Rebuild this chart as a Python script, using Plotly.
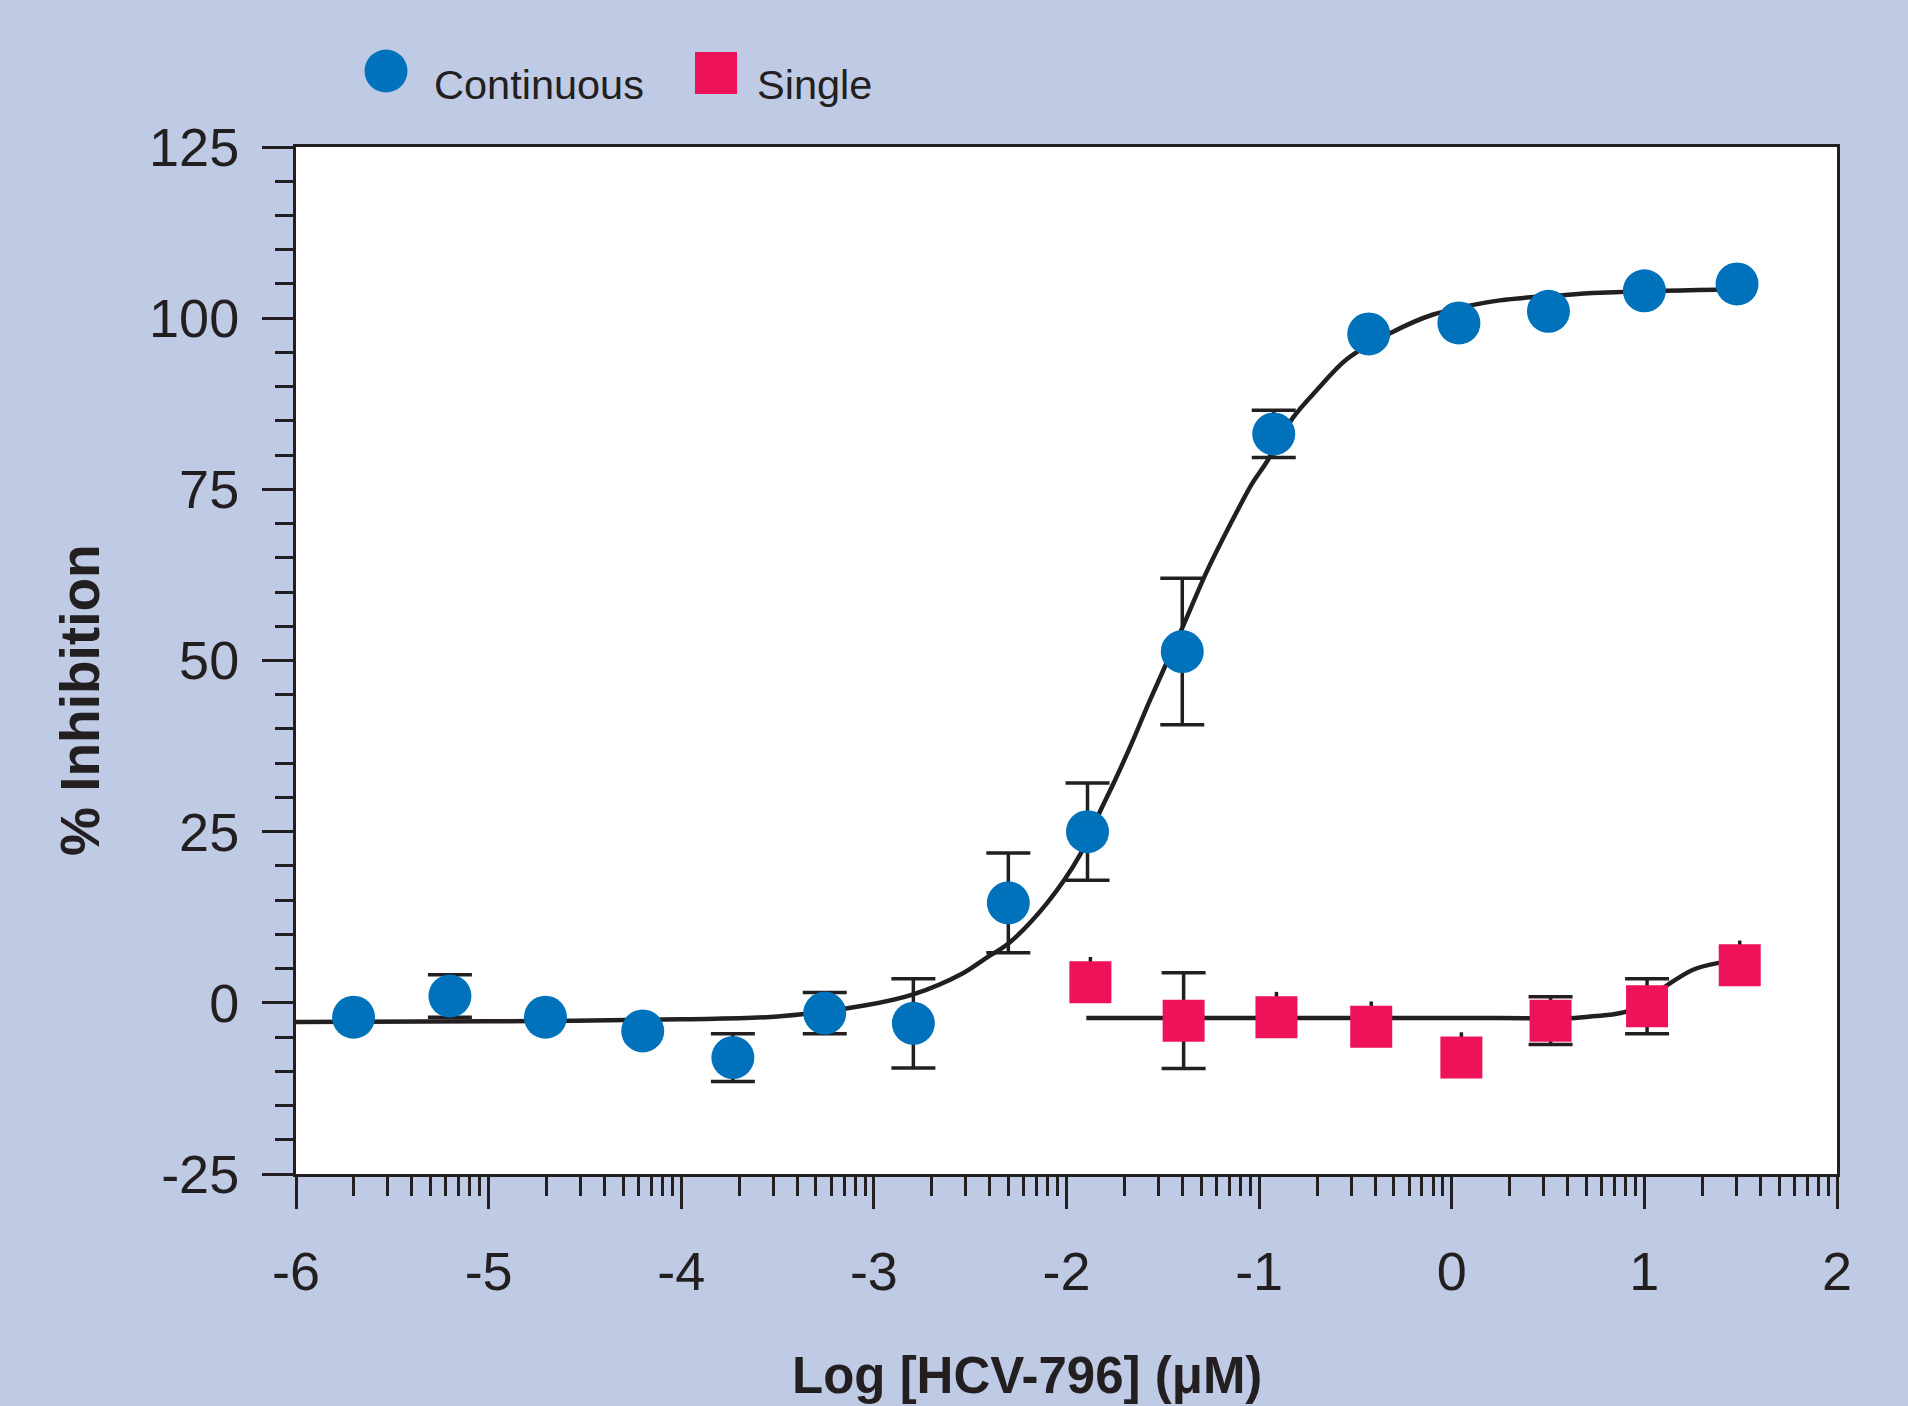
import numpy as np
import plotly.graph_objects as go

# ---------------- data ----------------
cont_x = [-5.701, -5.201, -4.705, -4.200, -3.732, -3.255, -2.795, -2.302,
          -1.891, -1.399, -0.924, -0.431, 0.037, 0.502, 1.000, 1.481]
cont_y = [-2.1, 1.0, -2.1, -4.1, -8.0, -1.5, -3.0, 14.6,
          25.0, 51.3, 83.1, 97.7, 99.3, 101.0, 104.0, 105.0]
cont_err = [0, 3.1, 0, 0, 3.5, 3.0, 6.5, 7.3,
            7.1, 10.7, 3.45, 0, 0, 0, 0, 0]

single_x = [-1.876, -1.392, -0.910, -0.418, 0.050, 0.513, 1.014, 1.495]
single_y = [3.0, -2.6, -2.1, -3.5, -8.0, -2.6, -0.5, 5.5]
single_err = [3.7, 7.0, 3.7, 3.7, 3.7, 3.5, 4.0, 3.6]

fit_cont_x = [-6.0, -5.0, -4.0, -3.5, -3.05, -2.8, -2.54, -2.42, -2.30, -2.10,
              -1.93, -1.83, -1.75, -1.66, -1.57, -1.40, -1.275, -1.155, -1.035,
              -0.965, -0.826, -0.70, -0.55, -0.32, -0.10, 0.25, 0.59, 0.77,
              1.28, 1.48]
fit_cont_y = [-2.8, -2.7, -2.4, -2.0, -0.4, 1.2, 4.3, 6.5, 8.7, 14.6,
              21.6, 27.7, 32.4, 38.0, 44.0, 54.7, 62.8, 69.6, 75.9,
              78.8, 85.4, 89.5, 93.9, 97.8, 100.5, 102.6, 103.4, 103.7,
              104.1, 104.2]

fit_single_x = [-1.897, -1.0, 0.0, 0.64, 0.72, 0.82, 0.905, 1.01, 1.12, 1.25, 1.38, 1.495]
fit_single_y = [-2.2, -2.2, -2.2, -2.2, -2.0, -1.75, -1.3, 0.3, 2.6, 4.8, 5.8, 6.1]

x_tick_vals = [-6, -5, -4, -3, -2, -1, 0, 1, 2]
x_tick_text = ["-6", "-5", "-4", "-3", "-2", "-1", "0", "1", "2"]
y_tick_vals = [-25, 0, 25, 50, 75, 100, 125]
y_tick_text = ["-25", "0", "25", "50", "75", "100", "125"]

series_names = ["Continuous", "Single"]
x_title = "Log [HCV-796] (\u03bcM)"
y_title = "% Inhibition"

# ---------------- styling ----------------
BLUE = "#0072BC"
PINK = "#EE1259"
INK = "#231F20"
BG = "#BFCAE4"
FONT = "Liberation Sans"

W, H = 1908, 1406
ML, MR, MT, MB = 296, 71, 147, 232
PW, PH = W - ML - MR, H - MT - MB


def px_to_paper_x(px):
    return (px - ML) / PW


def px_to_paper_y(py):
    return (H - MB - py) / PH


fig = go.Figure()

# fitted curves
fig.add_trace(go.Scatter(x=fit_cont_x, y=fit_cont_y, mode="lines",
                         line=dict(color=INK, width=4.5, shape="spline", smoothing=0.9),
                         showlegend=False, hoverinfo="skip"))
fig.add_trace(go.Scatter(x=fit_single_x, y=fit_single_y, mode="lines",
                         line=dict(color=INK, width=4.5, shape="spline", smoothing=0.9),
                         showlegend=False, hoverinfo="skip"))


def err_trace(xs, ys, errs, width, minus=None):
    ey = dict(type="data", array=errs, visible=True, color=INK,
              thickness=3.5, width=width)
    if minus is not None:
        ey["symmetric"] = False
        ey["arrayminus"] = minus
    return go.Scatter(x=xs, y=ys, mode="markers",
                      marker=dict(size=1, color="rgba(0,0,0,0)"),
                      error_y=ey, showlegend=False, hoverinfo="skip")


# continuous error bars (only where visible)
ci = [i for i, e in enumerate(cont_err) if e > 0]
fig.add_trace(err_trace([cont_x[i] for i in ci], [cont_y[i] for i in ci],
                        [cont_err[i] for i in ci], 22))

# single error bars: caps visible on some, stems only on others
capless = {0, 2, 3, 4, 7}
si_c = [i for i in range(len(single_x)) if i not in capless]
si_n = [i for i in range(len(single_x)) if i in capless]
fig.add_trace(err_trace([single_x[i] for i in si_c], [single_y[i] for i in si_c],
                        [single_err[i] for i in si_c], 22))
fig.add_trace(err_trace([single_x[i] for i in si_n], [single_y[i] for i in si_n],
                        [single_err[i] for i in si_n], 0,
                        minus=[0 for _ in si_n]))

# data markers
fig.add_trace(go.Scatter(x=cont_x, y=cont_y, mode="markers", name=series_names[0],
                         marker=dict(symbol="circle", size=43, color=BLUE,
                                     line=dict(width=0)),
                         showlegend=False))
fig.add_trace(go.Scatter(x=single_x, y=single_y, mode="markers", name=series_names[1],
                         marker=dict(symbol="square", size=42, color=PINK,
                                     line=dict(width=0)),
                         showlegend=False))

# minor ticks on the log-style x axis
minor_x = [d + np.log10(k) for d in range(-6, 2) for k in range(2, 10)]

fig.update_layout(
    width=W, height=H,
    margin=dict(l=ML, r=MR, t=MT, b=MB, pad=0),
    paper_bgcolor=BG, plot_bgcolor="white",
    font=dict(family=FONT, color=INK),
    showlegend=False,
    xaxis=dict(range=[-6, 2], tickmode="array", tickvals=x_tick_vals, ticktext=x_tick_text,
               ticks="outside", ticklen=32, tickwidth=3, tickcolor=INK,
               showline=True, linewidth=3, linecolor=INK, mirror=True,
               showgrid=False, zeroline=False,
               tickfont=dict(family=FONT, size=54, color=INK),
               ticklabelstandoff=16,
               minor=dict(tickmode="array", tickvals=minor_x, ticks="outside",
                          ticklen=19, tickwidth=3, tickcolor=INK, showgrid=False)),
    yaxis=dict(range=[-25, 125], tickmode="array", tickvals=y_tick_vals, ticktext=y_tick_text,
               ticks="outside", ticklen=31, tickwidth=3, tickcolor=INK,
               showline=True, linewidth=3, linecolor=INK, mirror=True,
               showgrid=False, zeroline=False,
               tickfont=dict(family=FONT, size=54, color=INK),
               ticklabelstandoff=12,
               minor=dict(dtick=5, ticks="outside", ticklen=18, tickwidth=3,
                          tickcolor=INK, showgrid=False)),
)

# legend drawn with shapes + text
fig.add_shape(type="circle", xref="paper", yref="paper",
              xsizemode="pixel", ysizemode="pixel",
              xanchor=px_to_paper_x(386), yanchor=px_to_paper_y(71),
              x0=-21.5, x1=21.5, y0=-21.5, y1=21.5,
              fillcolor=BLUE, line=dict(width=0))
fig.add_shape(type="rect", xref="paper", yref="paper",
              xsizemode="pixel", ysizemode="pixel",
              xanchor=px_to_paper_x(716), yanchor=px_to_paper_y(73),
              x0=-21, x1=21, y0=-21, y1=21,
              fillcolor=PINK, line=dict(width=0))
fig.add_annotation(text=series_names[0], xref="paper", yref="paper",
                   x=px_to_paper_x(432), y=px_to_paper_y(84),
                   xanchor="left", yanchor="middle", showarrow=False,
                   font=dict(family=FONT, size=41.5, color=INK))
fig.add_annotation(text=series_names[1], xref="paper", yref="paper",
                   x=px_to_paper_x(755), y=px_to_paper_y(84),
                   xanchor="left", yanchor="middle", showarrow=False,
                   font=dict(family=FONT, size=41.5, color=INK))

# axis titles
fig.add_annotation(text="<b>" + x_title + "</b>", xref="paper", yref="paper",
                   x=px_to_paper_x(1027), y=px_to_paper_y(1375),
                   xanchor="center", yanchor="middle", showarrow=False,
                   font=dict(family=FONT, size=51, color=INK))
fig.add_annotation(text="<b>" + y_title + "</b>", xref="paper", yref="paper",
                   x=px_to_paper_x(80), y=px_to_paper_y(700), textangle=-90,
                   xanchor="center", yanchor="middle", showarrow=False,
                   font=dict(family=FONT, size=55, color=INK))

fig.write_html("out.html")
